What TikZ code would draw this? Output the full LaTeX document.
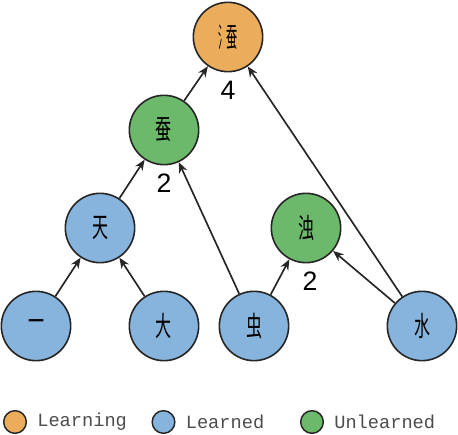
\documentclass[tikz,border=0pt]{standalone}
\usepackage{fontspec}
\setmainfont{Liberation Sans}
\setmonofont{Liberation Mono}
\newfontfamily\cjk{Noto Sans CJK SC}
\usetikzlibrary{positioning,arrows.meta}

\definecolor{learning}{HTML}{EBAD5B}
\definecolor{learned}{HTML}{86B4DC}
\definecolor{unlearned}{HTML}{6CB96B}
\definecolor{edgegray}{HTML}{262626}
\newcommand{\seal}[1]{\scalebox{0.75}[1.3]{#1}}

\begin{document}
\begin{tikzpicture}[
  x=0.75pt, y=-0.75pt,
  char/.style={
    circle,
    draw=edgegray,
    line width=1.2pt,
    minimum size=52pt,
    inner sep=0pt,
    font=\cjk\fontsize{16}{16}\selectfont
  },
  count/.style={font=\fontsize{20}{20}\selectfont, inner sep=0pt},
  key/.style={circle, draw=edgegray, line width=1.1pt, minimum size=17pt, inner sep=0pt},
  keytext/.style={font=\ttfamily\fontsize{14}{14}\selectfont, text=black!70, inner sep=0pt},
  arrow/.style={-{Stealth[length=8pt,width=6.5pt]}, line width=1.25pt, draw=edgegray}
]
\useasboundingbox (0,0) rectangle (458,435);

% Caracteres de base
\node[char, fill=learned] (yi) at (36,326) {\seal{一}};
\node[char, fill=learned] (da) at (164,326) {\seal{大}};
\node[char, fill=learned] (chong) at (254,326) {\seal{虫}};
\node[char, fill=learned] (shui) at (422,326) {\seal{水}};

% Caracteres composes
\node[char, fill=learned] (tian) at (100,228) {\seal{天}};
\node[char, fill=unlearned] (can) at (164,130) {\seal{蚕}};
\node[char, fill=unlearned] (zhuo) at (306,228) {\seal{浊}};
\node[char, fill=learning] (shuican) at (228,37)
  {\seal{\scalebox{0.55}[1]{氵}\kern-1pt\scalebox{0.7}[1]{蚕}}};

% Nombres
\node[count, below=6pt of shuican] (shuicanN) {4};
\node[count, below=6pt of can] (canN) {2};
\node[count, below=6pt of zhuo, xshift=3pt] (zhuoN) {2};

% Fleches
\draw[arrow] (yi) -- (tian);
\draw[arrow] (da) -- (tian);
\draw[arrow] (tian) -- (can);
\draw[arrow] (chong) -- (can);
\draw[arrow] (chong) -- (zhuo);
\draw[arrow] (shui) -- (zhuo);
\draw[arrow] (can) -- (shuican);
\draw[arrow] (shui) -- (shuican);

% Legende
\node[key, fill=learning] (kLearning) at (15,422) {};
\node[keytext, right=7.5pt of kLearning] (tLearning) {Learning};
\node[key, fill=learned] (kLearned) at (163.5,422) {};
\node[keytext, right=7.5pt of kLearned] (tLearned) {Learned};
\node[key, fill=unlearned] (kUnlearned) at (312,422) {};
\node[keytext, right=7.5pt of kUnlearned] (tUnlearned) {Unlearned};
\end{tikzpicture}
\end{document}
